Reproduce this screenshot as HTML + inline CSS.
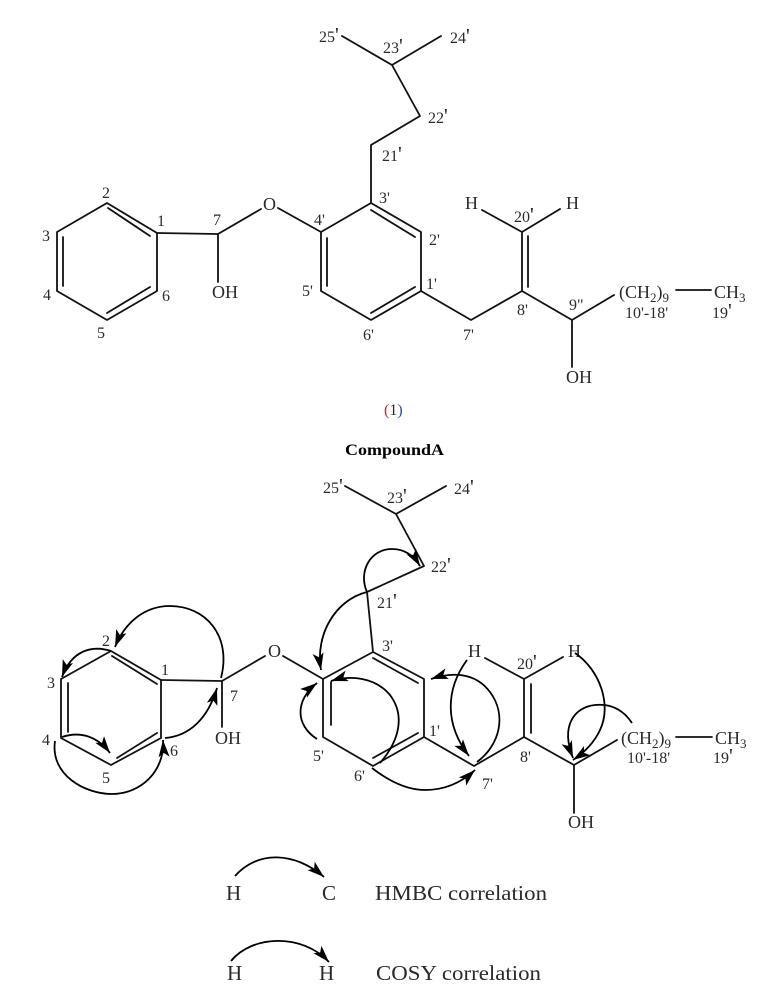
<!DOCTYPE html>
<html>
<head>
<meta charset="utf-8">
<style>
html,body{margin:0;padding:0;background:#fff;width:773px;height:988px;overflow:hidden}
svg{display:block;filter:blur(.3px)}
text{font-family:"Liberation Serif",serif;fill:#2a2a2a}
.n{font-size:16px}
.a{font-size:18px}
.p{font-size:21px}
.b{fill:none;stroke:#111;stroke-width:1.8;stroke-linecap:round;stroke-linejoin:round}
.c{fill:none;stroke:#000;stroke-width:1.8;marker-end:url(#h)}
.s{font-size:13px}
</style>
</head>
<body>
<svg width="773" height="988" viewBox="0 0 773 988" xmlns="http://www.w3.org/2000/svg">
<defs>
<marker id="h" markerUnits="userSpaceOnUse" markerWidth="19" markerHeight="12" refX="17" refY="5.5" orient="auto">
<path d="M0,0 L17,5.5 L0,11 L4,5.5 z" fill="#000"/>
</marker>
</defs>

<!-- TOP STRUCTURE -->
<path class="b" d="M107,203 L157,233 L157,291 L107,320 L57,291 L57,232 Z"/>
<path class="b" d="M108,208 L150,236 M63,237 L63,286 M107,313 L150,287"/>
<path class="b" d="M157,233 L218,234 L261,209 M278,208 L321,232 M218,234 L218,282"/>
<path class="b" d="M321,232 L371,203 L421,232 L421,291 L371,320 L321,291 Z"/>
<path class="b" d="M327,238 L327,286 M371,210 L415,237 M415,287 L371,313"/>
<path class="b" d="M371,203 L371,145 L420,116 L392,65 L342,36 M392,65 L441,36"/>
<path class="b" d="M421,291 L471,320 L522,291 L522,232 M528,236 L528,287 M482,210 L522,232 L560,209"/>
<path class="b" d="M522,291 L572,320 L614,295 M572,320 L572,367 M676,290 L711,290"/>

<text class="n" x="102" y="198">2</text>
<text class="n" x="157" y="226">1</text>
<text class="n" x="42" y="241">3</text>
<text class="n" x="43" y="300">4</text>
<text class="n" x="97" y="338">5</text>
<text class="n" x="162" y="301">6</text>
<text class="n" x="213" y="225">7</text>
<text class="a" x="263" y="210">O</text>
<text class="a" x="212" y="298" textLength="26" lengthAdjust="spacingAndGlyphs">OH</text>
<text class="n" x="314" y="225">4'</text>
<text class="n" x="302" y="296">5'</text>
<text class="n" x="363" y="340">6'</text>
<text class="n" x="379" y="203">3'</text>
<text class="n" x="429" y="245">2'</text>
<text class="n" x="426" y="289">1'</text>
<text class="n" x="463" y="340">7'</text>
<text class="n" x="517" y="315">8'</text>
<text class="n" x="569" y="310">9"</text>
<text class="n" x="382" y="161">21<tspan class="p">'</tspan></text>
<text class="n" x="428" y="123">22<tspan class="p">'</tspan></text>
<text class="n" x="383" y="53">23<tspan class="p">'</tspan></text>
<text class="n" x="450" y="43">24<tspan class="p">'</tspan></text>
<text class="n" x="319" y="42">25<tspan class="p">'</tspan></text>
<text class="n" x="514" y="222">20<tspan class="p">'</tspan></text>
<text class="a" x="465" y="209">H</text>
<text class="a" x="566" y="209">H</text>
<text class="a" x="619" y="298">(CH<tspan class="s" dy="4">2</tspan><tspan dy="-4">)</tspan><tspan class="s" dy="4">9</tspan></text>
<text class="a" x="714" y="298">CH<tspan class="s" dy="4">3</tspan></text>
<text class="n" x="625" y="318">10'-18'</text>
<text class="n" x="712" y="318">19<tspan class="p">'</tspan></text>
<text class="a" x="566" y="383" textLength="26" lengthAdjust="spacingAndGlyphs">OH</text>

<text class="n" x="384" y="415"><tspan fill="#b03030">(</tspan>1<tspan fill="#3050a0">)</tspan></text>
<text x="345" y="455" font-size="16" font-weight="bold" style="fill:#000" textLength="99" lengthAdjust="spacingAndGlyphs">CompoundA</text>

<!-- BOTTOM STRUCTURE -->
<path class="b" d="M111,651 L161,680 L161,738 L111,765 L61,738 L61,679 Z"/>
<path class="b" d="M112,656 L157,684 M68,683 L68,732 M157,733 L117,758"/>
<path class="b" d="M161,680 L222,681 L265,656 M283,656 L323,679 M222,681 L222,727"/>
<path class="b" d="M323,679 L373,652 L424,679 L424,737 L373,766 L323,737 Z"/>
<path class="b" d="M331,682 L331,725 M373,658 L418,683 M418,733 L373,758"/>
<path class="b" d="M373,652 L367,592 L424,566 L396,514 L345,486 M396,514 L446,486"/>
<path class="b" d="M424,737 L474,766 L524,737 L524,679 M531,684 L531,733 M485,658 L524,679 L563,657"/>
<path class="b" d="M524,737 L574,765 L617,740 M574,765 L574,813 M676,737 L712,737"/>

<text class="n" x="102" y="646">2</text>
<text class="n" x="161" y="675">1</text>
<text class="n" x="47" y="688">3</text>
<text class="n" x="42" y="745">4</text>
<text class="n" x="102" y="783">5</text>
<text class="n" x="170" y="756">6</text>
<text class="n" x="230" y="701">7</text>
<text class="a" x="268" y="657">O</text>
<text class="a" x="215" y="744" textLength="26" lengthAdjust="spacingAndGlyphs">OH</text>
<text class="n" x="313" y="761">5'</text>
<text class="n" x="354" y="781">6'</text>
<text class="n" x="382" y="651">3'</text>
<text class="n" x="429" y="736">1'</text>
<text class="n" x="482" y="789">7'</text>
<text class="n" x="520" y="762">8'</text>
<text class="n" x="377" y="608">21<tspan class="p">'</tspan></text>
<text class="n" x="431" y="572">22<tspan class="p">'</tspan></text>
<text class="n" x="387" y="503">23<tspan class="p">'</tspan></text>
<text class="n" x="454" y="494">24<tspan class="p">'</tspan></text>
<text class="n" x="323" y="493">25<tspan class="p">'</tspan></text>
<text class="n" x="517" y="669">20<tspan class="p">'</tspan></text>
<text class="a" x="468" y="657">H</text>
<text class="a" x="568" y="657">H</text>
<text class="a" x="621" y="744">(CH<tspan class="s" dy="4">2</tspan><tspan dy="-4">)</tspan><tspan class="s" dy="4">9</tspan></text>
<text class="a" x="715" y="744">CH<tspan class="s" dy="4">3</tspan></text>
<text class="n" x="627" y="763">10'-18'</text>
<text class="n" x="713" y="763">19<tspan class="p">'</tspan></text>
<text class="a" x="568" y="828" textLength="26" lengthAdjust="spacingAndGlyphs">OH</text>

<!-- Correlation arrows -->
<path class="c" d="M221,678 C232,635 205,606 170,606 C145,606 125,622 115,647"/>
<path class="c" d="M111,651 C92,645 72,650 62,677"/>
<path class="c" d="M62,737 C80,731 97,736 110,753"/>
<path class="c" d="M55,741 C50,775 85,794 112,794 C140,794 165,772 163,740"/>
<path class="c" d="M165,738 C190,736 208,718 217,688"/>
<path class="c" d="M367,592 C358,572 370,549 392,549 C405,549 414,556 420,566"/>
<path class="c" d="M367,592 C335,600 315,635 321,670"/>
<path class="c" d="M317,739 C295,725 295,700 317,683"/>
<path class="c" d="M380,763 C400,740 405,715 390,695 C375,677 350,675 331,681"/>
<path class="c" d="M467,660 C445,690 445,725 469,756"/>
<path class="c" d="M477,762 C500,745 507,715 490,692 C475,672 452,672 431,679"/>
<path class="c" d="M372,768 C390,782 407,790 425,790 C445,790 462,782 475,770"/>
<path class="c" d="M575,653 C600,670 612,705 600,730 C594,743 585,752 573,760"/>
<path class="c" d="M632,723 C620,705 605,704 595,705 C575,707 560,725 573,758"/>

<!-- LEGEND -->
<path class="c" d="M235,876 C258,850 295,852 324,877"/>
<text x="226" y="900" font-size="21">H</text>
<text x="322" y="900" font-size="21">C</text>
<text x="375" y="900" font-size="21" textLength="172" lengthAdjust="spacingAndGlyphs">HMBC correlation</text>

<path class="c" d="M231,961 C252,935 302,933 329,962"/>
<text x="227" y="980" font-size="21">H</text>
<text x="319" y="980" font-size="21">H</text>
<text x="376" y="980" font-size="21" textLength="165" lengthAdjust="spacingAndGlyphs">COSY correlation</text>
</svg>
</body>
</html>
